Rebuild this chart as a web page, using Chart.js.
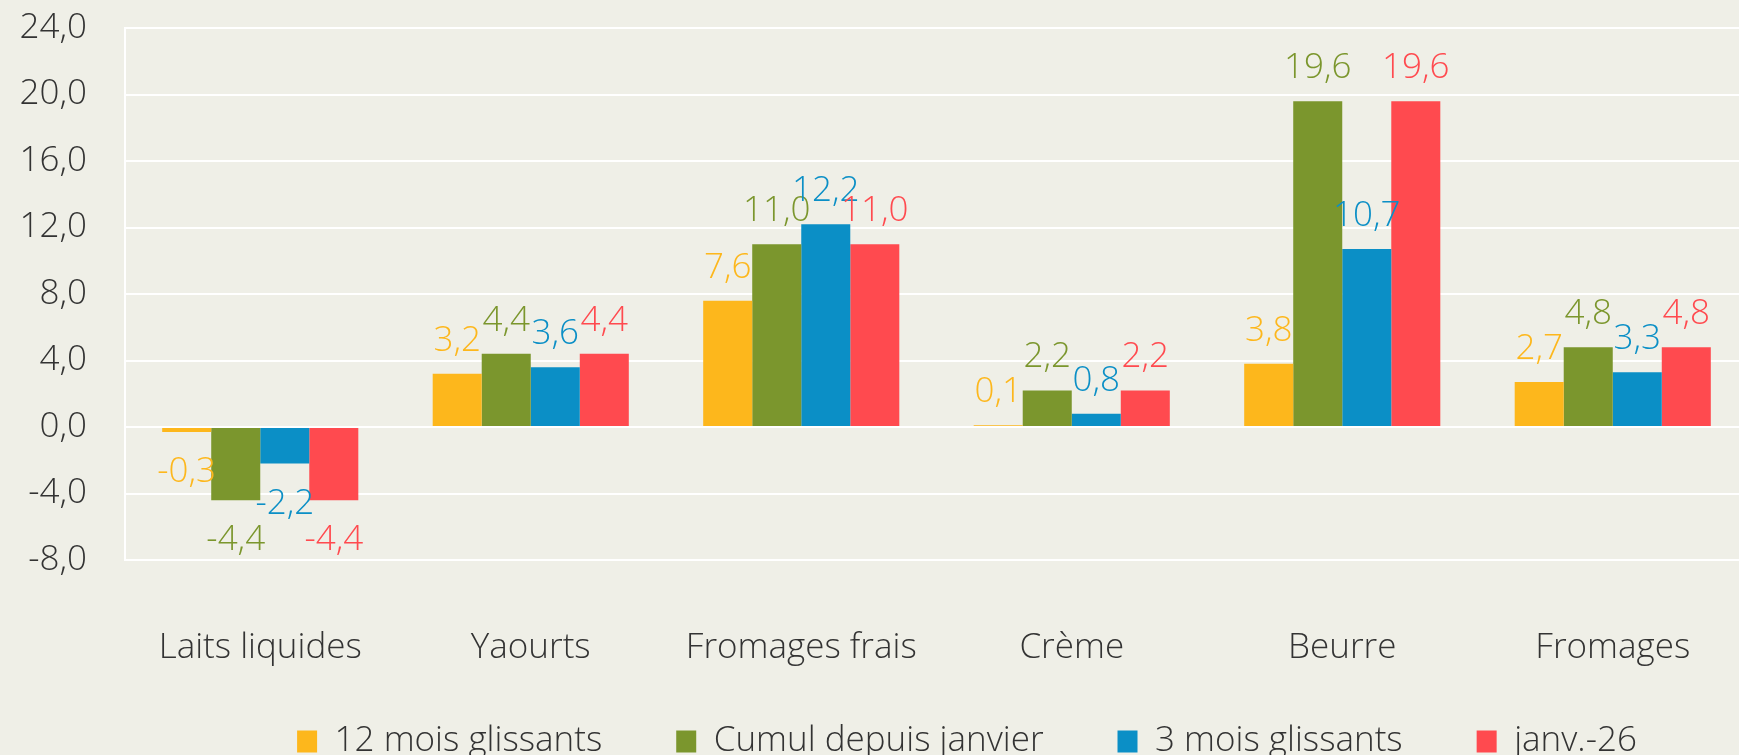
<!DOCTYPE html>
<html>
<head>
<meta charset="utf-8">
<script src="https://cdn.jsdelivr.net/npm/chart.js@4/dist/chart.umd.min.js"></script>
<style>
  body { margin: 0; background: #efefe7; overflow: hidden; }
  #wrap { width: 1739px; height: 755px; overflow: hidden; position: relative; }
  #box { position: absolute; left: 0; top: -31px; width: 1934px; height: 830px; }
</style>
</head>
<body>
<div id="wrap"><div id="box"><canvas id="barchart"></canvas></div></div>
<script>
var categories = ["Laits liquides", "Yaourts", "Fromages frais", "Crème", "Beurre", "Fromages"];
var seriesNames = ["12 mois glissants", "Cumul depuis janvier", "3 mois glissants", "janv.-26"];
var twelveMonths = [-0.3, 3.2, 7.6, 0.1, 3.8, 2.7];
var sinceJanuary = [-4.4, 4.4, 11.0, 2.2, 19.6, 4.8];
var threeMonths = [-2.2, 3.6, 12.2, 0.8, 10.7, 3.3];
var january = [-4.4, 4.4, 11.0, 2.2, 19.6, 4.8];
var colors = ['#fdb71c', '#7b962d', '#0b8fc6', '#ff4a4f'];
var font = "'Open Sans', Lato, sans-serif";
var textFont = { family: font, size: 35, weight: 300 };

function fmt(v) {
    return v.toFixed(1).replace('.', ',');
}

// value labels above / below each bar
var valueLabels = {
    id: 'valueLabels',
    afterDatasetsDraw: function (chart) {
        var ctx = chart.ctx;
        ctx.save();
        ctx.font = '300 35px ' + font;
        ctx.textAlign = 'center';
        ctx.textBaseline = 'middle';
        chart.data.datasets.forEach(function (ds, i) {
            var meta = chart.getDatasetMeta(i);
            ctx.fillStyle = ds.backgroundColor;
            meta.data.forEach(function (bar, j) {
                var v = ds.data[j];
                var y = v >= 0 ? bar.y - 33 : bar.y + 40;
                ctx.fillText(fmt(v), bar.x, y);
            });
        });
        ctx.restore();
    }
};

// pull the legend up a little, closer to the axis labels
var legendShift = {
    id: 'legendShift',
    afterLayout: function (chart) {
        chart.legend.top -= 30;
        chart.legend.bottom -= 30;
    }
};

var allSeries = [twelveMonths, sinceJanuary, threeMonths, january];
var datasets = allSeries.map(function (d, i) {
    return {
        label: seriesNames[i],
        data: d,
        backgroundColor: colors[i],
        categoryPercentage: 0.725,
        barPercentage: 1.0
    };
});

var ctx = document.getElementById("barchart").getContext('2d');
var chart = new Chart(ctx, {
    type: 'bar',
    data: { labels: categories, datasets: datasets },
    plugins: [valueLabels, legendShift],
    options: {
        responsive: true,
        maintainAspectRatio: false,
        animation: false,
        plugins: {
            legend: {
                position: 'bottom',
                labels: {
                    color: '#333',
                    font: textFont,
                    boxWidth: 20,
                    boxHeight: 22,
                    padding: 74
                }
            },
            tooltip: { enabled: false }
        },
        scales: {
            x: {
                grid: { display: false },
                border: { display: false },
                ticks: { color: '#333', font: textFont, padding: 59 },
                afterFit: function (scale) { scale.height = 120; }
            },
            y: {
                min: -8,
                max: 24,
                ticks: {
                    stepSize: 4,
                    color: '#333',
                    font: textFont,
                    padding: 38,
                    callback: function (v) { return fmt(v); }
                },
                grid: { color: '#ffffff', lineWidth: 2, drawTicks: false },
                border: { color: '#ffffff', width: 2 },
                afterFit: function (scale) { scale.width = 125; }
            },
            y2: {
                position: 'right',
                display: true,
                ticks: { display: false },
                grid: { display: false },
                border: { display: false },
                afterFit: function (scale) { scale.width = 186; }
            }
        }
    }
});
</script>
</body>
</html>
